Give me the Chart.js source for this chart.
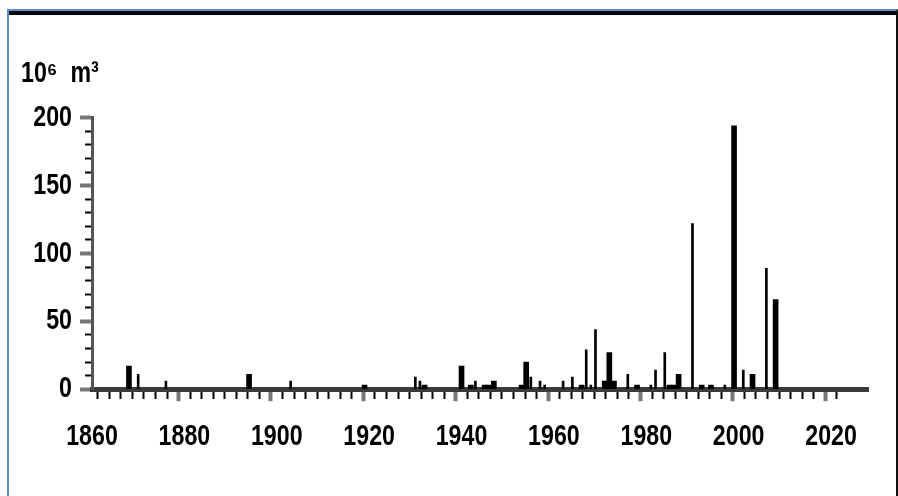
<!DOCTYPE html>
<html>
<head>
<meta charset="utf-8">
<script src="https://cdn.jsdelivr.net/npm/chart.js@4"></script>
<style>
    body { margin: 0; background: #fff; }
    #wrap { position: relative; width: 898px; height: 496px; overflow: hidden; }
    #chart { position: absolute; left: 0; top: 0; }
    .frame { position: absolute; left: 7px; top: 9px; width: 887px; height: 520px;
             border-left: 2px solid #5f8ccb; border-top: 2px solid #5f8ccb; border-right: 2px solid #111; }
    .topbar { position: absolute; left: 9px; top: 11px; width: 887px; height: 4px; background: #000; }
</style>
</head>
<body>
<div id="wrap">
    <canvas id="chart" width="898" height="496"></canvas>
    <div class="frame"></div>
    <div class="topbar"></div>
</div>
<script>
// Volumes per year (10^6 m3)
// Wide bars
const wideYears  = [1868, 1894, 1919, 1932, 1940, 1942, 1945, 1946, 1947, 1953, 1954, 1966, 1971, 1972, 1973, 1978, 1985, 1986, 1987, 1992, 1994, 1999, 2003, 2008];
const wideValues = [17,   11,   3,    3,    17,   3,    3,    3,    6,    3,    20,   3,    6,    27,   6,    3,    3,    3,    11,   3,    3,    194,  11,   66];

// Narrow bars
const narrowYears  = [1870, 1876, 1903, 1930, 1931, 1943, 1955, 1957, 1958, 1962, 1964, 1967, 1968, 1969, 1976, 1981, 1982, 1984, 1990, 1997, 2001, 2006];
const narrowValues = [11,   6,    6,    9,    6,    6,    9,    6,    3,    6,    9,    29,   3,    44,   11,   3,    14,   27,   122,  3,    14,   89];

// Axis ticks
const yearLabels = [1860, 1880, 1900, 1920, 1940, 1960, 1980, 2000, 2020];
const volumeLabels = [0, 50, 100, 150, 200];

const FONT = "'Liberation Sans', Arial, sans-serif";

function toPoints(xs, ys) {
    return xs.map((x, i) => ({ x: x, y: ys[i] }));
}

// No narrow font installed: squeeze text horizontally around its anchor
const narrowText = {
    id: 'narrowText',
    beforeDraw(chart) {
        const c = chart.ctx;
        if (c._narrow) return;
        const fill = c.fillText.bind(c);
        c.fillText = function (text, x, y) {
            c.save();
            c.translate(x, y);
            c.scale(0.8, 1);
            fill(text, 0, 0);
            c.restore();
        };
        c._narrow = true;
    }
};

const ctx = document.getElementById('chart').getContext('2d');
new Chart(ctx, {
    type: 'bar',
    data: {
        datasets: [
            {
                label: 'wide',
                data: toPoints(wideYears, wideValues),
                backgroundColor: '#000',
                barThickness: 5,
                grouped: false
            },
            {
                label: 'narrow',
                data: toPoints(narrowYears, narrowValues),
                backgroundColor: '#000',
                barThickness: 2,
                grouped: false
            }
        ]
    },
    options: {
        responsive: false,
        animation: false,
        layout: {
            padding: { left: 21, right: 30, top: 0, bottom: 24 }
        },
        scales: {
            x: {
                type: 'linear',
                min: 1860,
                max: 2028,
                offset: false,
                afterBuildTicks: (scale) => {
                    scale.ticks = scale.ticks.filter(t => t.value <= 2020);
                },
                border: { display: true, color: '#3a3a3a', width: 5 },
                grid: {
                    drawOnChartArea: false,
                    tickLength: 12,
                    tickColor: (c) => yearLabels.includes(c.tick && c.tick.value) ? '#777' : '#000',
                    tickWidth: (c) => yearLabels.includes(c.tick && c.tick.value) ? 4 : 2,
                    tickBorderDash: (c) => yearLabels.includes(c.tick && c.tick.value) ? [] : [7, 100]
                },
                ticks: {
                    stepSize: 2.5,
                    autoSkip: false,
                    maxRotation: 0,
                    padding: 18,
                    color: '#000',
                    font: { family: FONT, size: 29, weight: 'bold' },
                    callback: (v) => yearLabels.includes(v) ? String(v) : ''
                }
            },
            y: {
                min: 0,
                max: 200,
                afterFit: (scale) => { scale.width = 71; },
                border: { display: true, color: '#555', width: 3 },
                grid: {
                    drawOnChartArea: false,
                    tickLength: 12,
                    tickColor: (c) => volumeLabels.includes(c.tick && c.tick.value) ? '#777' : '#000',
                    tickWidth: (c) => volumeLabels.includes(c.tick && c.tick.value) ? 4 : 2,
                    tickBorderDash: (c) => volumeLabels.includes(c.tick && c.tick.value) ? [] : [0, 5, 7, 100]
                },
                ticks: {
                    stepSize: 10,
                    autoSkip: false,
                    padding: 8,
                    color: '#000',
                    font: { family: FONT, size: 29, weight: 'bold' },
                    callback: (v) => volumeLabels.includes(v) ? String(v) : ''
                }
            }
        },
        plugins: {
            legend: { display: false },
            tooltip: { enabled: false },
            title: {
                display: true,
                text: '10⁶  m³',
                align: 'start',
                color: '#000',
                font: { family: FONT, size: 29, weight: 'bold' },
                padding: { top: 57, bottom: 26 }
            }
        }
    },
    plugins: [narrowText]
});
</script>
</body>
</html>
